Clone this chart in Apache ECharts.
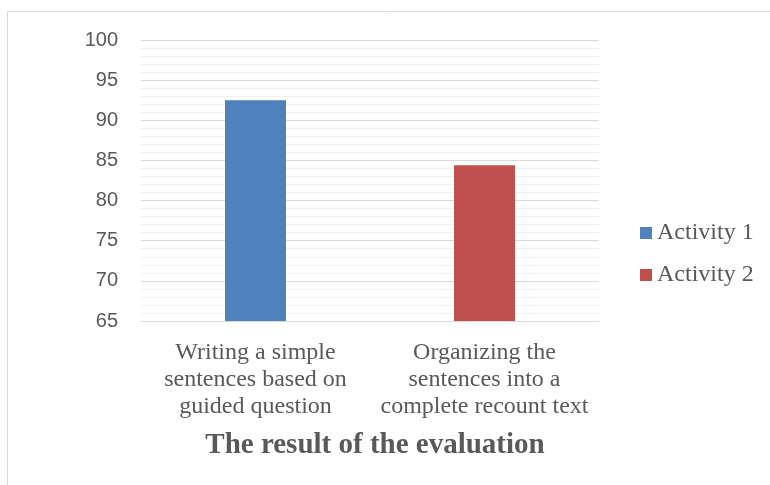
<!DOCTYPE html>
<html>
<head>
	<meta charset="utf-8" />
	<title>The result of the evaluation</title>
	<script src="https://cdn.jsdelivr.net/npm/echarts@6/dist/echarts.min.js"></script>
	<style>
		body { margin: 0; background: #fff; }
		#main { width: 770px; height: 485px; }
	</style>
</head>
<body>
	<div id="main"></div>
	<script type="text/javascript">
		// data
		var categories = ['Writing a simple\nsentences based on\nguided question', 'Organizing the\nsentences into a\ncomplete recount text'];
		var seriesNames = ['Activity 1', 'Activity 2'];
		var activity1 = [92.5, '-'];
		var activity2 = ['-', 84.4];
		var colors = ['#4f81bd', '#c0504d'];

		var myChart = echarts.init(document.getElementById('main'));

		var option = {
			animation: false,
			graphic: [{
				type: 'rect',
				shape: { x: 7.5, y: 11.5, width: 800, height: 500 },
				style: { fill: 'none', stroke: '#d9d9d9', lineWidth: 1 }
			}],
			title: {
				text: 'The result of the evaluation',
				left: 370,
				textAlign: 'center',
				top: 426,
				textStyle: { fontFamily: 'Liberation Serif', fontWeight: 'bold', fontSize: 29, color: '#595959' }
			},
			legend: {
				orient: 'vertical',
				left: 635,
				top: 216,
				itemWidth: 12,
				itemHeight: 12,
				itemGap: 18,
				icon: 'rect',
				data: seriesNames,
				textStyle: { fontFamily: 'Liberation Serif', fontSize: 24, color: '#595959' }
			},
			grid: { left: 141, right: 171, top: 40, bottom: 164 },
			xAxis: {
				type: 'category',
				data: categories,
				axisLine: { lineStyle: { color: '#d9d9d9', width: 1 } },
				axisTick: { show: false },
				axisLabel: {
					interval: 0,
					margin: 18,
					lineHeight: 27,
					fontFamily: 'Liberation Serif',
					fontSize: 24,
					color: '#595959'
				}
			},
			yAxis: {
				type: 'value',
				min: 65,
				max: 100,
				interval: 5,
				axisLine: { show: false },
				axisTick: { show: false },
				axisLabel: { margin: 23, fontFamily: 'Liberation Sans', fontSize: 20, color: '#595959' },
				splitLine: { lineStyle: { color: '#d9d9d9', width: 1 } },
				minorTick: { show: false, splitNumber: 5 },
				minorSplitLine: { show: true, lineStyle: { color: '#f0f0f0', width: 1 } }
			},
			series: [{
				name: seriesNames[0],
				type: 'bar',
				data: activity1,
				barWidth: 61,
				barGap: '-100%',
				itemStyle: { color: colors[0] }
			}, {
				name: seriesNames[1],
				type: 'bar',
				data: activity2,
				barWidth: 61,
				barGap: '-100%',
				itemStyle: { color: colors[1] }
			}]
		};

		myChart.setOption(option);
	</script>
</body>
</html>
